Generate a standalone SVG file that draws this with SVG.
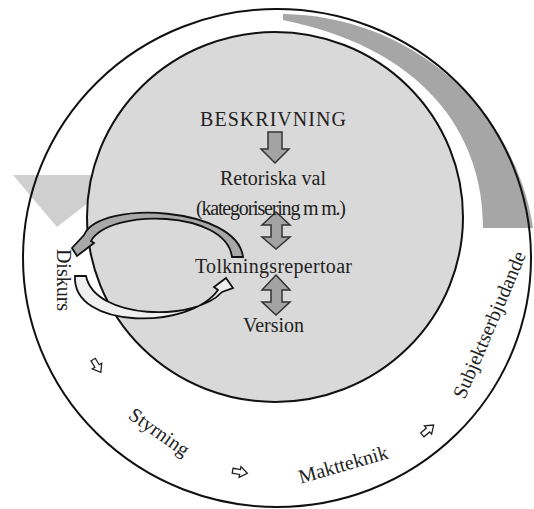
<svg xmlns="http://www.w3.org/2000/svg" width="534" height="509" viewBox="0 0 534 509">
<defs>
<style>
.t{font-family:"Liberation Serif","Times New Roman",serif;fill:#222;font-size:20px}
.ring{fill:none;stroke:#111;stroke-width:2}
.blk{fill:#a3a3a3;stroke:#333;stroke-width:1.5;stroke-linejoin:miter}
.hol{fill:#fff;stroke:#222;stroke-width:1.3}
</style>
<polygon id="small" points="-7.5,-2.5 0,-2.5 0,-5.5 7.5,0 0,5.5 0,2.5 -7.5,2.5"/>
</defs>
<rect width="534" height="509" fill="#fff"/>
<g id="background">
<ellipse cx="277" cy="258" rx="254" ry="249" fill="#fff"/>
<polygon points="13,175 124,175 57,227" fill="#cfcfcf"/>
<path d="M283,14 A256 250 0 0 1 533,228 L483,228 C484,150 440,52 283,20 Z" fill="#a6a6a6"/>
<ellipse class="ring" cx="277" cy="258" rx="254" ry="249"/>
</g>
<g id="inner">
<ellipse cx="275" cy="217" rx="188" ry="185" fill="#d9d9d9" stroke="#111" stroke-width="2"/>
</g>
<g id="connectors">
<path class="blk" d="M268,132 H282 V149 H289 L275,163 L261,149 H268 Z"/>
<path class="blk" d="M276,212 L290,225 H282 V237 H290 L276,249 L262,237 H271 V225 H262 Z"/>
<path class="blk" d="M276,275 L290,290 H282 V302 H290 L276,315 L262,302 H271 V290 H262 Z"/>
<path d="M243,257 C237,207 100,199 84,235 L72,248 L77,256 L94,243 L91,241 C110,208 226,210 232,257 Z" fill="#a8a8a8" stroke="#111" stroke-width="1.8" stroke-linejoin="miter"/>
<path d="M75,276 C72,330 190,330 218,290 L214,287 L226,278 L233,288 L222,292 C195,322 95,320 86,276 Z" fill="#efefef" stroke="#111" stroke-width="1.8"/>
<use href="#small" class="hol" transform="translate(97,366) rotate(59)"/>
<use href="#small" class="hol" transform="translate(240,472) rotate(10)"/>
<use href="#small" class="hol" transform="translate(428,430) rotate(-41)"/>
</g>
<g id="n-beskrivning"><text class="t" x="273" y="126" font-size="21" text-anchor="middle" textLength="146">BESKRIVNING</text></g>
<g id="n-retoriska"><text class="t" x="273" y="185" text-anchor="middle">Retoriska val</text></g>
<g id="n-kategorisering"><text class="t" x="271" y="215" font-size="16" text-anchor="middle" textLength="150">(kategorisering m m.)</text></g>
<g id="n-tolkning"><text class="t" x="273.5" y="273" text-anchor="middle" textLength="157">Tolkningsrepertoar</text></g>
<g id="n-version"><text class="t" x="273.5" y="332" text-anchor="middle">Version</text></g>
<g id="n-diskurs"><text class="t" text-anchor="middle" transform="translate(57,280) rotate(90)">Diskurs</text></g>
<g id="n-styrning"><text class="t" text-anchor="middle" transform="translate(155.5,437.5) rotate(35)">Styrning</text></g>
<g id="n-maktteknik"><text class="t" text-anchor="middle" transform="translate(345,471) rotate(-16)">Maktteknik</text></g>
<g id="n-subjekt"><text class="t" text-anchor="middle" transform="translate(495.5,327.5) rotate(-67)">Subjektserbjudande</text></g>
</svg>
